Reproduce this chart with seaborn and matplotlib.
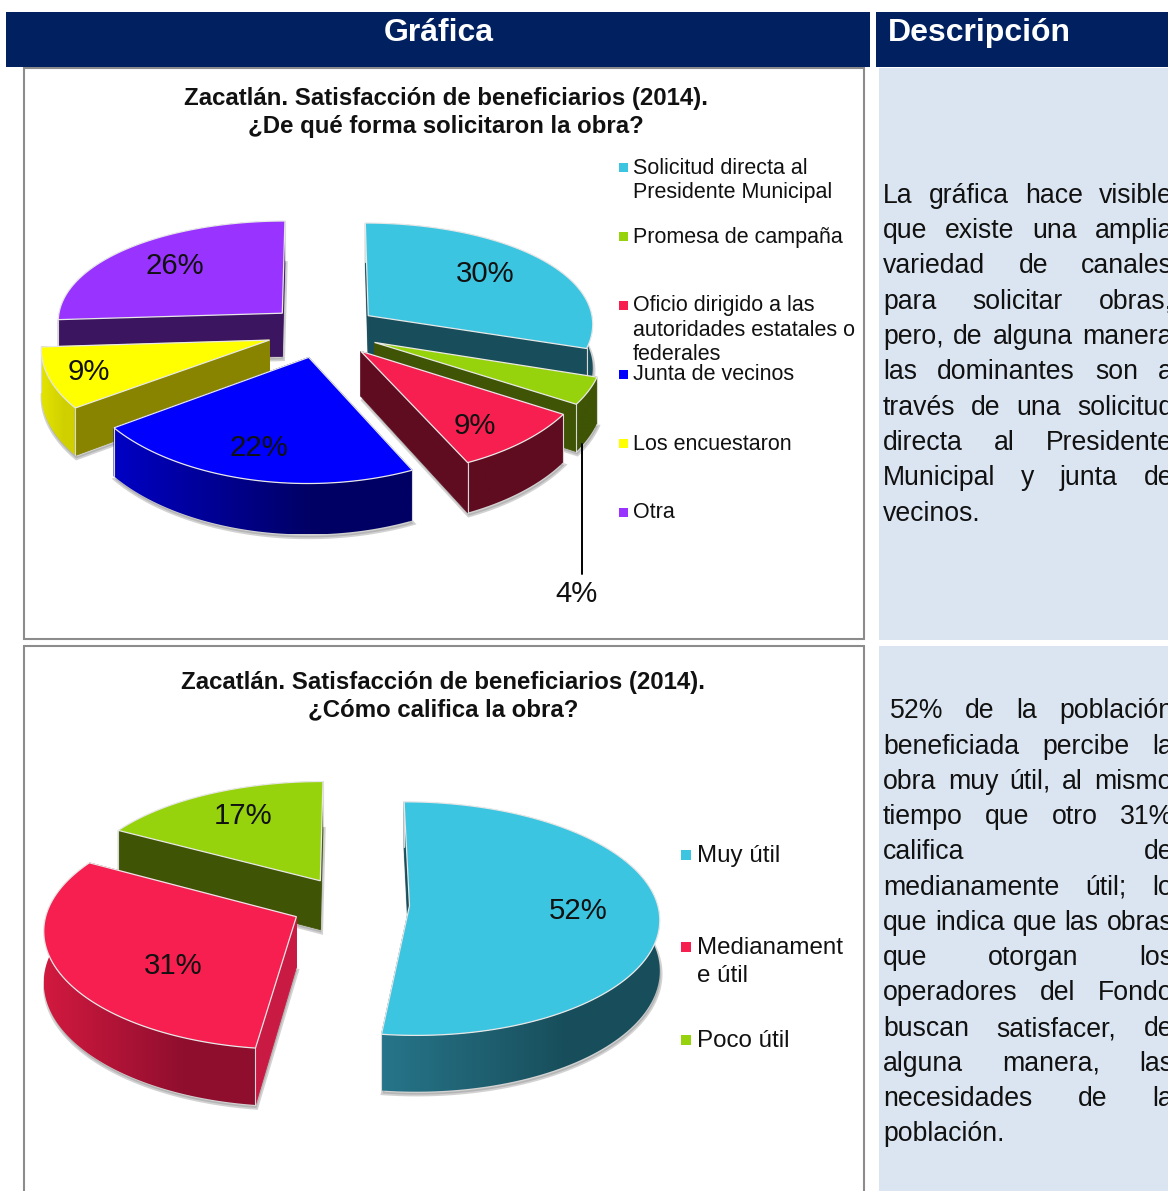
import numpy as np
import matplotlib
matplotlib.use("Agg")
import matplotlib.pyplot as plt
from matplotlib.patches import Polygon, Rectangle
from matplotlib.colors import to_rgb
import seaborn as sns

# ---- data ----
obra_labels = ["Solicitud directa al\nPresidente Municipal", "Promesa de campaña",
               "Oficio dirigido a las\nautoridades estatales o\nfederales", "Junta de vecinos",
               "Los encuestaron", "Otra"]
obra_values = [30, 4, 9, 22, 9, 26]

califica_labels = ["Muy útil", "Medianament\ne útil", "Poco útil"]
califica_values = [52, 31, 17]

texto1 = ["La gráfica hace visible", "que existe una amplia", "variedad de canales",
          "para solicitar obras,", "pero, de alguna manera", "las dominantes son a",
          "través de una solicitud", "directa al Presidente", "Municipal y junta de", "vecinos."]
texto2 = [" 52% de la población", "beneficiada percibe la", "obra muy útil, al mismo",
          "tiempo que otro 31%", "califica de", "medianamente útil; lo",
          "que indica que las obras", "que otorgan los", "operadores del Fondo",
          "buscan satisfacer, de", "alguna manera, las", "necesidades de la", "población."]

# ---- colours ----
cyan, green, red, blue, yellow, purple = sns.color_palette(
    ["#3CC5E0", "#96D30C", "#F61F4F", "#0000FF", "#FFFF00", "#9933FF"])
navy = "#002060"
panel = "#DBE5F1"

# cut face, outer wall at left, outer wall at right
walls1 = [("#184E5B", "#184E5B", "#184E5B"), ("#3F5405", "#3F5405", "#3F5405"),
          ("#5F0C20", "#5F0C20", "#5F0C20"), ("#000080", "#0000C4", "#000064"),
          ("#888400", "#E4E400", "#D0D000"), ("#3C1560", "#3C1560", "#3C1560")]
walls2 = [("#184E5B", "#27758A", "#184E5B"), ("#C81A42", "#D2193F", "#8F0E2E"),
          ("#3F5405", "#3F5405", "#3F5405")]

sns.set_theme(style="white")
plt.rcParams["font.family"] = ["Liberation Sans", "DejaVu Sans"]

fig = plt.figure(figsize=(11.68, 11.91), dpi=100)
ax = fig.add_axes([0, 0, 1, 1])


def pixel_axes():
    ax.set_aspect("auto")
    ax.set_xlim(0, 1168)
    ax.set_ylim(1191, 0)
    ax.axis("off")


def pie3d(values, colors, walls, explode, cx, cy, rx, ry, k, kx, depth):
    wedges = ax.pie(values, explode=[explode] * len(values), startangle=90,
                    counterclock=False, radius=1)[0]
    pixel_axes()

    def project(x, y):
        return cx + rx * x / (1 + kx * y), cy - ry * y / (1 + k * y), 1 / (1 + k * y)

    # back slices first, so the front ones cover them
    order = sorted(range(len(values)), key=lambda i: -wedges[i].center[1])
    shapes = [(w.center, w.theta1, w.theta2) for w in wedges]
    for w in wedges:
        w.remove()

    for i in order:
        (x0, y0), t1, t2 = shapes[i]
        th = np.radians(np.linspace(t1, t2, 120))
        ax_, ay_, s0 = project(x0, y0)
        px, py, ps = project(x0 + np.cos(th), y0 + np.sin(th))
        top = np.column_stack([np.r_[ax_, px], np.r_[ay_, py]])
        bottom = top + np.column_stack([np.zeros(len(top)), depth * np.r_[s0, ps]])

        # soft shadow under the slice
        ax.add_patch(Polygon(bottom + [1, 3], closed=True, fc="#808080", ec="#808080",
                             alpha=0.35, lw=2.5, zorder=2))

        cut, c_left, c_right = walls[i]
        faces = [(np.array([top[0], top[1], bottom[1], bottom[0]]), cut, np.sin(np.radians(t1 - 90))),
                 (np.array([top[0], top[-1], bottom[-1], bottom[0]]), cut, np.sin(np.radians(t2 + 90)))]

        for q, col, n in faces:
            if n >= 0:
                ax.add_patch(Polygon(q, closed=True, fc=col, ec=col, lw=0.6, zorder=2))

        # outer wall with a horizontal gradient
        wall = np.vstack([top[1:], bottom[1:][::-1]])
        x_lo, x_hi = wall[:, 0].min(), wall[:, 0].max()
        f = np.clip(np.linspace(0, 1.5, 200), 0, 1)[None, :, None]
        grad = np.array(to_rgb(c_left))[None, None, :] * (1 - f) + np.array(to_rgb(c_right))[None, None, :] * f
        patch = Polygon(wall, closed=True, fc="none", ec="none", zorder=2)
        ax.add_patch(patch)
        img = ax.imshow(grad, extent=(x_lo, x_hi, wall[:, 1].max(), wall[:, 1].min()),
                        aspect="auto", interpolation="bilinear", zorder=2)
        img.set_clip_path(patch)

        for q, col, n in faces:
            if n < 0:
                ax.add_patch(Polygon(q, closed=True, fc=col, ec=col, lw=0.6, zorder=2))
        # pale edges on the cut corners
        for idx in (1, -1):
            ax.plot([top[idx, 0], bottom[idx, 0]], [top[idx, 1], bottom[idx, 1]],
                    color="#D8D8D8", lw=0.8, zorder=2)
        ax.add_patch(Polygon(top, closed=True, fc=colors[i], ec="#E8E8E8", lw=0.9, zorder=2))


def legend_items(labels, colors, tops, x_box, x_text, size, box, line):
    for lab, col, y in zip(labels, colors, tops):
        ax.add_patch(Rectangle((x_box, y - box / 2), box, box, fc=col, ec="none", zorder=3))
        for n, part in enumerate(lab.split("\n")):
            # text sits a little low compared with the boxes
            ax.text(x_text, y + n * line + 1, part, fontsize=size, color="#111111",
                    ha="left", va="center", zorder=4)


def justified(lines, ys, x0, x1, size):
    rend = fig.canvas.get_renderer()
    for n, (line, y) in enumerate(zip(lines, ys)):
        indent = 7 if line.startswith(" ") else 0
        words = line.split()
        arts = [ax.text(x0 + indent, y, w, fontsize=size, color="#111111",
                        ha="left", va="center", zorder=4) for w in words]
        last = n == len(lines) - 1 or len(words) == 1
        widths = [a.get_window_extent(rend).width for a in arts]
        gap = 7 if last else (x1 - x0 - indent - sum(widths)) / (len(words) - 1)
        x = x0 + indent
        for a, w in zip(arts, widths):
            a.set_x(x)
            x += w + gap


pie3d(obra_values, [cyan, green, red, blue, yellow, purple], walls1,
      0.25, 323, 331, 226, 106, 0.11, 0.07, 44)
pie3d(califica_values, [cyan, red, green], walls2,
      0.24, 350, 904, 248, 115, 0.11, 0.10, 50)

# ---- table background ----
for x, y, w, h, c in [(6, 12, 864, 55, navy), (876, 12, 292, 55, navy),
                      (879, 68, 289, 572, panel), (879, 646, 289, 545, panel)]:
    ax.add_patch(Rectangle((x, y), w, h, fc=c, ec="none", zorder=1))
for y, h in [(68, 571), (646, 560)]:
    ax.add_patch(Rectangle((24, y), 840, h, fc="white", ec="#8C8C8C", lw=1.5, zorder=0.5))

ax.text(439, 33, "Gráfica", color="white", fontsize=23, fontweight="bold",
        ha="center", va="center", zorder=4)
ax.text(888, 33, "Descripción", color="white", fontsize=23, fontweight="bold",
        ha="left", va="center", zorder=4)

# ---- titles ----
for txt, y in [("Zacatlán. Satisfacción de beneficiarios (2014).", 98),
               ("¿De qué forma solicitaron la obra?", 126)]:
    ax.text(446, y, txt, fontsize=17.25, fontweight="bold", ha="center", va="center", color="#111111", zorder=4)
for txt, y in [("Zacatlán. Satisfacción de beneficiarios (2014).", 682),
               ("¿Cómo califica la obra?", 710)]:
    ax.text(443, y, txt, fontsize=17.25, fontweight="bold", ha="center", va="center", color="#111111", zorder=4)

# ---- pct labels ----
for txt, x, y in [("30%", 485, 274), ("9%", 475, 426), ("22%", 259, 448),
                  ("9%", 89, 372), ("26%", 175, 266), ("4%", 577, 594),
                  ("52%", 578, 911), ("31%", 173, 966), ("17%", 243, 816)]:
    ax.text(x, y, txt, fontsize=21.2, ha="center", va="center", color="#111111", zorder=4)
ax.plot([582, 582], [444, 574], color="black", lw=1.4, zorder=3)

legend_items(obra_labels, [cyan, green, red, blue, yellow, purple],
             [167, 236, 305, 374, 443, 512], 619, 633, 15.5, 9, 24.4)
legend_items(califica_labels, [cyan, red, green], [855, 947, 1040], 681, 697, 17.4, 10, 28)

justified(texto1, [196, 231, 266, 302, 337, 372, 408, 443, 478, 514], 883, 1173, 19.2)
justified(texto2, [711, 747, 782, 817, 852, 888, 923, 958, 993, 1029, 1064, 1099, 1134], 883, 1173, 19.2)

pixel_axes()
fig.savefig("out.png", dpi=100)
